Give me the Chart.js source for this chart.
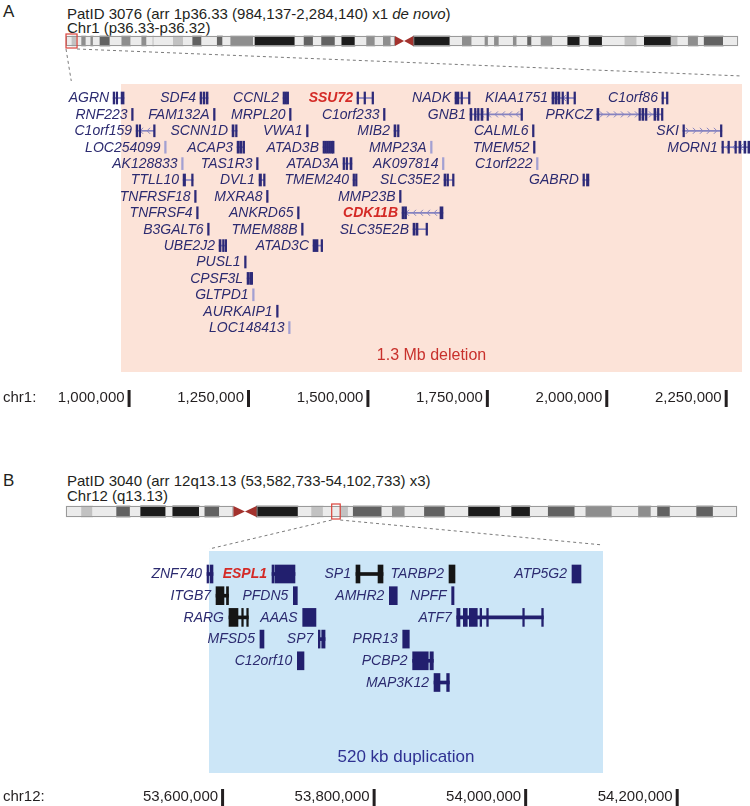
<!DOCTYPE html>
<html>
<head>
<meta charset="utf-8">
<title>CNV gene maps</title>
<script src="https://cdn.jsdelivr.net/npm/chart.js@4.4.1/dist/chart.umd.min.js"></script>
<style>
  html, body { margin: 0; padding: 0; background: #fff; }
  #page { position: relative; width: 750px; height: 806px; overflow: hidden;
          font-family: "Liberation Sans", Arial, sans-serif; color: #231f20; }
  .txt { position: absolute; white-space: nowrap; font-size: 15px; line-height: 15px; }
  .tag { position: absolute; font-size: 17px; line-height: 17px; }
  canvas { position: absolute; left: 0; }
</style>
</head>
<body>
<div id="page">
  <div class="tag" style="left:3px;top:3px">A</div>
  <div class="txt" style="left:67px;top:6px">PatID 3076 (arr 1p36.33 (984,137-2,284,140) x1 <i>de novo</i>)</div>
  <div class="txt" style="left:67px;top:20px">Chr1 (p36.33-p36.32)</div>
  <canvas id="chartA" width="750" height="450" style="top:0"></canvas>

  <div class="tag" style="left:3px;top:472px">B</div>
  <div class="txt" style="left:67px;top:473px">PatID 3040 (arr 12q13.13 (53,582,733-54,102,733) x3)</div>
  <div class="txt" style="left:67px;top:488px">Chr12 (q13.13)</div>
  <canvas id="chartB" width="750" height="356" style="top:450px"></canvas>
</div>

<script>
// ---------------- panel A : chr1 deletion ----------------
var deletionA = [984137, 2284140];
var viewStartA = 880000;
var chrTicksA = [1000000, 1250000, 1500000, 1750000, 2000000, 2250000];
var chr1Length = 249.25;   // Mb
var boxA = [0, 4.1];       // Mb, highlighted part of the ideogram

// chr1 bands: end of each band (Mb) and its stain
var bandEndA = [2.2, 4.1, 5.8, 7.4, 9.2, 10.1, 12.6, 16.3, 20.7, 24.0, 28.1, 29.9, 32.2, 32.6,
  39.8, 43.5, 47.0, 50.3, 56.1, 58.1, 61.1, 69.5, 70.1, 84.9, 88.3, 91.7, 94.8, 99.8, 102.3,
  107.2, 111.5, 114.6, 117.7, 120.5, 122.0, 128.8, 142.4, 147.0, 150.5, 155.4, 156.6, 158.9,
  160.6, 165.9, 167.2, 171.2, 172.7, 176.2, 180.4, 186.1, 190.6, 194.0, 198.9, 207.3, 211.7,
  214.5, 224.4, 226.9, 230.8, 234.5, 236.7, 243.8, 249.25];
var bandStainA = ['gneg', 'gpos25', 'gneg', 'gpos50', 'gneg', 'gpos50', 'gneg', 'gpos75', 'gneg',
  'gpos50', 'gneg', 'gpos50', 'gneg', 'gpos25', 'gneg', 'gpos25', 'gneg', 'gpos75', 'gneg',
  'gpos75', 'gneg', 'gpos50', 'gneg', 'gpos100', 'gneg', 'gpos75', 'gneg', 'gpos75', 'gneg',
  'gpos100', 'gneg', 'gpos50', 'gneg', 'gpos50', 'gneg', 'acen', 'gvar', 'gneg', 'gpos50',
  'gneg', 'gpos50', 'gneg', 'gpos50', 'gneg', 'gpos50', 'gneg', 'gpos75', 'gneg', 'gpos50',
  'gneg', 'gpos100', 'gneg', 'gpos100', 'gneg', 'gpos25', 'gneg', 'gpos100', 'gpos25', 'gneg',
  'gpos50', 'gneg', 'gpos75', 'gneg'];

var genesA = ['AGRN', 'SDF4', 'CCNL2', 'SSU72', 'NADK', 'KIAA1751', 'C1orf86',
  'RNF223', 'FAM132A', 'MRPL20', 'C1orf233', 'GNB1', 'PRKCZ',
  'C1orf159', 'SCNN1D', 'VWA1', 'MIB2', 'CALML6', 'SKI',
  'LOC254099', 'ACAP3', 'ATAD3B', 'MMP23A', 'TMEM52', 'MORN1',
  'AK128833', 'TAS1R3', 'ATAD3A', 'AK097814', 'C1orf222',
  'TTLL10', 'DVL1', 'TMEM240', 'SLC35E2', 'GABRD',
  'TNFRSF18', 'MXRA8', 'MMP23B',
  'TNFRSF4', 'ANKRD65', 'CDK11B',
  'B3GALT6', 'TMEM88B', 'SLC35E2B',
  'UBE2J2', 'ATAD3C',
  'PUSL1', 'CPSF3L', 'GLTPD1', 'AURKAIP1', 'LOC148413'];
var rowA = [0, 0, 0, 0, 0, 0, 0, 1, 1, 1, 1, 1, 1, 2, 2, 2, 2, 2, 2, 3, 3, 3, 3, 3, 3,
  4, 4, 4, 4, 4, 5, 5, 5, 5, 5, 6, 6, 6, 7, 7, 7, 8, 8, 8, 9, 9, 10, 11, 12, 13, 14];
// kb
var startA = [967.6, 1149.6, 1323.3, 1478.2, 1683.3, 1886.3, 2116.5,
  1006.3, 1177.8, 1336.9, 1533.6, 1714.7, 1980.4,
  1015.7, 1216.6, 1372.5, 1555.6, 1845.5, 2160.4,
  1075.4, 1227.1, 1407.0, 1632.1, 1847.6, 2242.0,
  1111.0, 1267.9, 1448.9, 1657.0, 1853.9,
  1114.1, 1273.1, 1469.8, 1660.3, 1951.1,
  1138.2, 1288.8, 1567.2,
  1142.4, 1353.7, 1572.4,
  1165.4, 1362.1, 1595.4,
  1189.4, 1386.1,
  1242.8, 1248.0, 1259.6, 1309.8, 1334.9];
var endA = [990.6, 1166.4, 1333.8, 1511.7, 1713.6, 1934.4, 2128.0,
  1008.4, 1180.0, 1339.0, 1535.7, 1823.5, 2117.5,
  1054.4, 1227.1, 1375.6, 1566.1, 1847.6, 2242.0,
  1077.5, 1241.7, 1428.0, 1634.2, 1849.7, 2300.6,
  1113.1, 1270.0, 1467.7, 1659.0, 1856.0,
  1135.0, 1283.6, 1477.1, 1680.2, 1963.7,
  1140.3, 1291.9, 1569.3,
  1145.5, 1355.8, 1658.2,
  1167.5, 1364.2, 1624.7,
  1204.1, 1405.0,
  1246.0, 1258.5, 1261.7, 1311.9, 1337.0];
// exon blocks per gene (kb); empty = drawn as one block
var exonsA = [
  [[967.6, 970.7], [973.9, 976.0], [984.3, 990.6]],
  [[1149.6, 1151.7], [1155.9, 1158.0], [1162.2, 1166.4]],
  [[1323.3, 1325.4], [1327.5, 1329.6], [1331.7, 1333.8]],
  [[1478.2, 1481.3], [1492.8, 1494.9], [1509.6, 1511.7]],
  [[1683.3, 1691.6], [1695.8, 1697.9], [1711.5, 1713.6]],
  [[1886.3, 1890.4], [1892.5, 1896.7], [1898.8, 1903.0], [1907.2, 1909.3], [1917.7, 1919.8], [1932.3, 1934.4]],
  [[2116.5, 2117.5], [2125.9, 2128.0]],
  [], [], [], [],
  [[1714.7, 1718.8], [1724.1, 1727.2], [1730.4, 1733.5], [1737.7, 1741.9], [1750.2, 1752.3], [1821.4, 1823.5]],
  [[1980.4, 1984.6], [2068.3, 2070.4], [2074.6, 2078.8], [2081.9, 2085.1], [2099.7, 2103.9], [2107.0, 2109.1], [2115.4, 2117.5]],
  [[1015.7, 1018.8], [1022.0, 1025.1], [1052.3, 1054.4]],
  [[1216.6, 1220.8], [1223.9, 1227.1]],
  [],
  [[1555.6, 1559.8], [1562.9, 1566.1]],
  [],
  [[2160.4, 2162.5], [2238.9, 2242.0]],
  [],
  [[1227.1, 1230.2], [1232.3, 1237.5], [1239.6, 1241.7]],
  [[1407.0, 1409.1], [1411.2, 1413.3], [1415.4, 1417.5], [1419.6, 1421.7], [1423.8, 1425.9], [1426.9, 1428.0]],
  [],
  [],
  [[2242.0, 2244.1], [2254.6, 2256.7], [2269.2, 2271.3], [2277.6, 2281.8], [2288.1, 2292.3], [2296.4, 2300.6]],
  [], [],
  [[1448.9, 1452.0], [1455.2, 1458.3], [1463.5, 1467.7]],
  [], [],
  [[1114.1, 1119.3], [1131.9, 1135.0]],
  [[1273.1, 1278.3], [1282.5, 1283.6]],
  [[1469.8, 1471.9], [1475.0, 1477.1]],
  [[1660.3, 1664.4], [1666.5, 1668.6], [1678.1, 1680.2]],
  [[1951.1, 1953.2], [1958.5, 1963.7]],
  [], [], [],
  [], [],
  [[1572.4, 1577.6], [1578.6, 1580.7], [1651.9, 1658.2]],
  [], [],
  [[1595.4, 1599.6], [1601.7, 1605.9], [1622.6, 1624.7]],
  [[1189.4, 1193.6], [1196.7, 1198.8], [1202.0, 1204.1]],
  [[1386.1, 1396.6], [1402.9, 1405.0]],
  [],
  [[1248.0, 1250.1], [1253.2, 1254.3], [1256.4, 1258.5]],
  [], [], []
];
var lightA = ['LOC254099', 'AK128833', 'MMP23A', 'AK097814', 'C1orf222', 'GLTPD1', 'LOC148413'];
var redA = ['SSU72', 'CDK11B'];
var minusStrandA = ['C1orf159', 'GNB1', 'CDK11B', 'KIAA1751', 'MORN1'];
var plusStrandA = ['PRKCZ', 'SKI'];

// ---------------- panel B : chr12 duplication ----------------
var duplicationB = [53582733, 54102733];
var chrTicksB = [53600000, 53800000, 54000000, 54200000];
var chr12Length = 133.85;  // Mb
var boxB = [53.0, 54.7];

var bandEndB = [3.1, 5.3, 10.1, 12.8, 14.9, 19.9, 21.3, 26.6, 27.7, 30.6, 33.4, 38.0, 46.3,
  49.0, 51.3, 54.7, 56.3, 57.3, 63.0, 65.1, 67.6, 71.5, 75.6, 80.3, 86.6, 88.9, 92.6, 96.2,
  101.5, 103.7, 108.9, 114.2, 116.7, 118.0, 120.5, 125.8, 129.1, 133.85];
var bandStainB = ['gneg', 'gpos25', 'gneg', 'gpos75', 'gneg', 'gpos100', 'gneg', 'gpos100',
  'gneg', 'gpos75', 'gneg', 'acen', 'gvar', 'gneg', 'gpos25', 'gneg', 'gpos25', 'gneg',
  'gpos75', 'gneg', 'gpos50', 'gneg', 'gpos75', 'gneg', 'gpos100', 'gneg', 'gpos100', 'gneg',
  'gpos75', 'gneg', 'gpos50', 'gneg', 'gpos50', 'gneg', 'gpos75', 'gneg', 'gpos75', 'gneg'];

var genesB = ['ZNF740', 'ESPL1', 'SP1', 'TARBP2', 'ATP5G2',
  'ITGB7', 'PFDN5', 'AMHR2', 'NPFF',
  'RARG', 'AAAS', 'ATF7',
  'MFSD5', 'SP7', 'PRR13',
  'C12orf10', 'PCBP2',
  'MAP3K12'];
var rowB = [0, 0, 0, 0, 0, 1, 1, 1, 1, 2, 2, 2, 3, 3, 3, 4, 4, 5];
var startB = [53580.1, 53665.9, 53776.7, 53899.5, 54061.8, 53592.0, 53694.0, 53820.7, 53903.0,
  53609.1, 53706.4, 53909.7, 53650.0, 53727.0, 53838.4, 53699.3, 53851.5, 53879.7];
var endB = [53588.0, 53696.2, 53812.4, 53907.4, 54073.7, 53608.5, 53699.3, 53831.2, 53906.1,
  53634.6, 53723.9, 54024.0, 53655.3, 53735.9, 53847.1, 53708.1, 53878.8, 53899.9];
var exonsB = [
  [[53580.1, 53581.4], [53584.1, 53588.0]],
  [[53665.9, 53668.5], [53669.8, 53696.2]],
  [[53776.7, 53782.0], [53805.8, 53812.4]],
  [], [],
  [[53592.0, 53602.5], [53605.8, 53608.5]],
  [], [], [],
  [[53609.1, 53621.0], [53625.9, 53628.0], [53632.5, 53634.6]],
  [],
  [[53909.7, 53914.0], [53918.4, 53923.6], [53926.3, 53936.8], [53940.4, 53942.6], [53949.2, 53951.4], [53996.8, 53998.5], [54021.8, 54024.0]],
  [],
  [[53727.0, 53729.3], [53731.5, 53735.9]],
  [], [],
  [[53851.5, 53872.1], [53874.4, 53878.8]],
  [[53879.7, 53887.6], [53896.4, 53899.9]]
];
var blackB = ['SP1', 'TARBP2', 'ITGB7', 'RARG'];
var redB = ['ESPL1'];

// ---------------- drawing ----------------
var FONT = '"Liberation Sans", Arial, sans-serif';
var stainColor = {
  gneg: '#ebebeb', gpos25: '#c2c2c2', gpos50: '#8e8e8e', gpos75: '#626262',
  gpos100: '#1c1c1c', gvar: '#1c1c1c', acen: 'rgba(0,0,0,0)'
};

var layoutA = {
  height: 450, row0: 98, rowStep: 16.4, regionPx: [121, 742], ideoPx: [66, 738],
  ideoY: 41, ideoH: 10, regionY: [84, 372], labelY: 356, axisY: 398, dashEnd: [81, 76],
  exonH: 12, intronH: 1, fontSize: 14, labelGap: 4,
  regionColor: '#fce3d8', regionText: '#c8312c', regionFont: '16px ' + FONT
};
var layoutB = {
  height: 356, row0: 124, rowStep: 21.7, regionPx: [209, 603], ideoPx: [66, 737],
  ideoY: 61.5, ideoH: 11, regionY: [101, 323], labelY: 307, axisY: 347, dashEnd: [99, 95],
  exonH: 18, intronH: 3, fontSize: 14, labelGap: 5,
  regionColor: '#cce6f7', regionText: '#2e3192', regionFont: '17px ' + FONT
};

function rowOf(L, py) {
  return (py - L.row0) / L.rowStep;
}

function fitRange(v0, v1, p0, p1, width) {
  var per = (v1 - v0) / (p1 - p0);
  var min = v0 - p0 * per;
  return {min: min, max: min + width * per};
}

function bandBars(ends, stains, row) {
  var data = [], colors = [], prev = 0;
  for (var i = 0; i < ends.length; i++) {
    data.push({x: [prev, ends[i]], y: row});
    colors.push(stainColor[stains[i]]);
    prev = ends[i];
  }
  return {data: data, colors: colors};
}

function geneBars(g) {
  var blocks = [], blockCols = [], lines = [], lineCols = [];
  for (var i = 0; i < g.names.length; i++) {
    var col = g.colorOf(g.names[i]);
    var ex = g.exons[i];
    if (ex.length) {
      lines.push({x: [g.starts[i] * 1000, g.ends[i] * 1000], y: g.rows[i]});
      lineCols.push(g.lineColorOf(g.names[i]));
      for (var k = 0; k < ex.length; k++) {
        blocks.push({x: [ex[k][0] * 1000, ex[k][1] * 1000], y: g.rows[i]});
        blockCols.push(col);
      }
    } else {
      blocks.push({x: [g.starts[i] * 1000, g.ends[i] * 1000], y: g.rows[i]});
      blockCols.push(col);
    }
  }
  return {blocks: blocks, blockCols: blockCols, lines: lines, lineCols: lineCols};
}

function makePanelPlugin(d, L) {
  return {
    id: 'panel' + d.tag,
    beforeDatasetsDraw: function(chart) {
      var ctx = chart.ctx, x = chart.scales.x, y = chart.scales.y;
      var x0 = x.getPixelForValue(d.region[0]), x1 = x.getPixelForValue(d.region[1]);
      ctx.save();
      ctx.fillStyle = L.regionColor;
      ctx.fillRect(x0, L.regionY[0], x1 - x0, L.regionY[1] - L.regionY[0]);

      // strand chevrons along introns
      ctx.strokeStyle = '#8683c0';
      ctx.lineWidth = 1;
      for (var i = 0; i < d.names.length; i++) {
        var dir = d.minus.indexOf(d.names[i]) >= 0 ? -1 : (d.plus.indexOf(d.names[i]) >= 0 ? 1 : 0);
        if (!dir) continue;
        var a = x.getPixelForValue(d.starts[i] * 1000) + 5, b = x.getPixelForValue(d.ends[i] * 1000) - 4;
        var cy = y.getPixelForValue(d.rows[i]);
        ctx.beginPath();
        for (var px = a; px < b; px += 7) {
          ctx.moveTo(px - dir * 2, cy - 3);
          ctx.lineTo(px + dir * 1, cy);
          ctx.lineTo(px - dir * 2, cy + 3);
        }
        ctx.stroke();
      }
      ctx.restore();
    },
    afterDatasetsDraw: function(chart) {
      var ctx = chart.ctx, x = chart.scales.x, y = chart.scales.y, xi = chart.scales.xIdeo;
      var top = L.ideoY - L.ideoH / 2, bot = L.ideoY + L.ideoH / 2;
      ctx.save();

      // ideogram outline, broken at the centromere
      var acS = 0, acE = 0, prev = 0;
      for (var i = 0; i < d.bandEnd.length; i++) {
        if (d.bandStain[i] === 'acen') { acS = prev; acE = d.bandEnd[i]; }
        prev = d.bandEnd[i];
      }
      ctx.strokeStyle = '#9a9a9a';
      ctx.lineWidth = 1;
      var p0 = xi.getPixelForValue(0), pS = xi.getPixelForValue(acS),
          pE = xi.getPixelForValue(acE), p1 = xi.getPixelForValue(d.chrLen);
      ctx.strokeRect(p0 + 0.5, top + 0.5, pS - p0 - 1, L.ideoH - 1);
      ctx.strokeRect(pE + 0.5, top + 0.5, p1 - pE - 1, L.ideoH - 1);
      // centromere
      var pM = xi.getPixelForValue((acS + acE) / 2);
      ctx.fillStyle = '#a3322d';
      ctx.beginPath();
      ctx.moveTo(pS, top); ctx.lineTo(pM, L.ideoY); ctx.lineTo(pS, bot); ctx.closePath();
      ctx.moveTo(pE, top); ctx.lineTo(pM, L.ideoY); ctx.lineTo(pE, bot); ctx.closePath();
      ctx.fill();

      // highlighted band
      var b0 = xi.getPixelForValue(d.box[0]), b1 = xi.getPixelForValue(d.box[1]);
      ctx.strokeStyle = '#d9423a';
      ctx.lineWidth = 1.2;
      ctx.strokeRect(b0, top - 2, b1 - b0, L.ideoH + 4);

      // zoom lines
      ctx.strokeStyle = '#7a7a7a';
      ctx.lineWidth = 1;
      ctx.setLineDash([3, 3]);
      ctx.beginPath();
      ctx.moveTo(b0, bot + 3);
      ctx.lineTo(x.getPixelForValue(d.zoomTo[0]), L.dashEnd[0]);
      ctx.moveTo(b1, bot + 3);
      ctx.lineTo(x.getPixelForValue(d.zoomTo[1]), L.dashEnd[1]);
      ctx.stroke();
      ctx.setLineDash([]);

      // gene names
      ctx.textAlign = 'right';
      ctx.textBaseline = 'middle';
      for (var g = 0; g < d.names.length; g++) {
        var red = d.red.indexOf(d.names[g]) >= 0;
        ctx.font = (red ? 'italic bold ' : 'italic ') + L.fontSize + 'px ' + FONT;
        ctx.fillStyle = red ? '#d42a26' : '#2c2b70';
        ctx.fillText(d.names[g], x.getPixelForValue(d.starts[g] * 1000) - L.labelGap,
          y.getPixelForValue(d.rows[g]) + 0.5);
      }

      // region label
      var r0 = x.getPixelForValue(d.region[0]), r1 = x.getPixelForValue(d.region[1]);
      ctx.font = L.regionFont;
      ctx.fillStyle = L.regionText;
      ctx.textAlign = 'center';
      ctx.fillText(d.regionLabel, (r0 + r1) / 2, L.labelY);

      // coordinate axis
      ctx.font = '15px ' + FONT;
      ctx.fillStyle = '#231f20';
      ctx.textAlign = 'left';
      ctx.fillText(d.chrLabel, 3, L.axisY);
      ctx.textAlign = 'right';
      d.ticks.forEach(function(t) {
        var px = x.getPixelForValue(t);
        ctx.fillRect(px - 1, L.axisY - 8, 3, 17);
        ctx.fillText(t.toLocaleString('en-US'), px - 4, L.axisY);
      });
      ctx.restore();
    }
  };
}

function buildPanel(canvasId, d, L) {
  var genes = geneBars(d);
  var ideoRow = rowOf(L, L.ideoY);
  var bands = bandBars(d.bandEnd, d.bandStain, ideoRow);
  var xr = fitRange(d.region[0], d.region[1], L.regionPx[0], L.regionPx[1], 750);
  var xir = fitRange(0, d.chrLen, L.ideoPx[0], L.ideoPx[1], 750);

  return new Chart(document.getElementById(canvasId), {
    type: 'bar',
    data: {
      datasets: [
        {label: 'exons', data: genes.blocks, backgroundColor: genes.blockCols,
          barThickness: L.exonH, minBarLength: 1.6, xAxisID: 'x'},
        {label: 'introns', data: genes.lines, backgroundColor: genes.lineCols,
          barThickness: L.intronH, xAxisID: 'x'},
        {label: 'bands', data: bands.data, backgroundColor: bands.colors,
          barThickness: L.ideoH, xAxisID: 'xIdeo'}
      ]
    },
    plugins: [makePanelPlugin(d, L)],
    options: {
      indexAxis: 'y',
      responsive: false,
      animation: false,
      events: [],
      grouped: false,
      borderWidth: 0,
      layout: {padding: 0},
      plugins: {legend: {display: false}, tooltip: {enabled: false}, title: {display: false}},
      scales: {
        x: {type: 'linear', display: false, offset: false, bounds: 'data', min: xr.min, max: xr.max},
        xIdeo: {type: 'linear', axis: 'x', display: false, offset: false, bounds: 'data',
          min: xir.min, max: xir.max},
        y: {type: 'linear', display: false, offset: false, bounds: 'data', reverse: true,
          min: -L.row0 / L.rowStep, max: (L.height - L.row0) / L.rowStep}
      }
    }
  });
}

var panelA = {
  tag: 'A', names: genesA, rows: rowA, starts: startA, ends: endA, exons: exonsA, red: redA,
  minus: minusStrandA, plus: plusStrandA,
  colorOf: function(n) { return lightA.indexOf(n) >= 0 ? '#a3a0d2' : '#2d2a78'; },
  lineColorOf: function(n) { return '#8683c0'; },
  region: deletionA, zoomTo: [viewStartA, deletionA[1]], ticks: chrTicksA,
  chrLen: chr1Length, box: boxA, bandEnd: bandEndA, bandStain: bandStainA,
  chrLabel: 'chr1:', regionLabel: '1.3 Mb deletion'
};
var panelB = {
  tag: 'B', names: genesB, rows: rowB, starts: startB, ends: endB, exons: exonsB, red: redB,
  minus: [], plus: [],
  colorOf: function(n) { return blackB.indexOf(n) >= 0 ? '#151515' : '#221f6e'; },
  lineColorOf: function(n) { return blackB.indexOf(n) >= 0 ? '#151515' : '#221f6e'; },
  region: duplicationB, zoomTo: duplicationB, ticks: chrTicksB,
  chrLen: chr12Length, box: boxB, bandEnd: bandEndB, bandStain: bandStainB,
  chrLabel: 'chr12:', regionLabel: '520 kb duplication'
};

window.onload = function() {
  buildPanel('chartA', panelA, layoutA);
  buildPanel('chartB', panelB, layoutB);
};
</script>
</body>
</html>
